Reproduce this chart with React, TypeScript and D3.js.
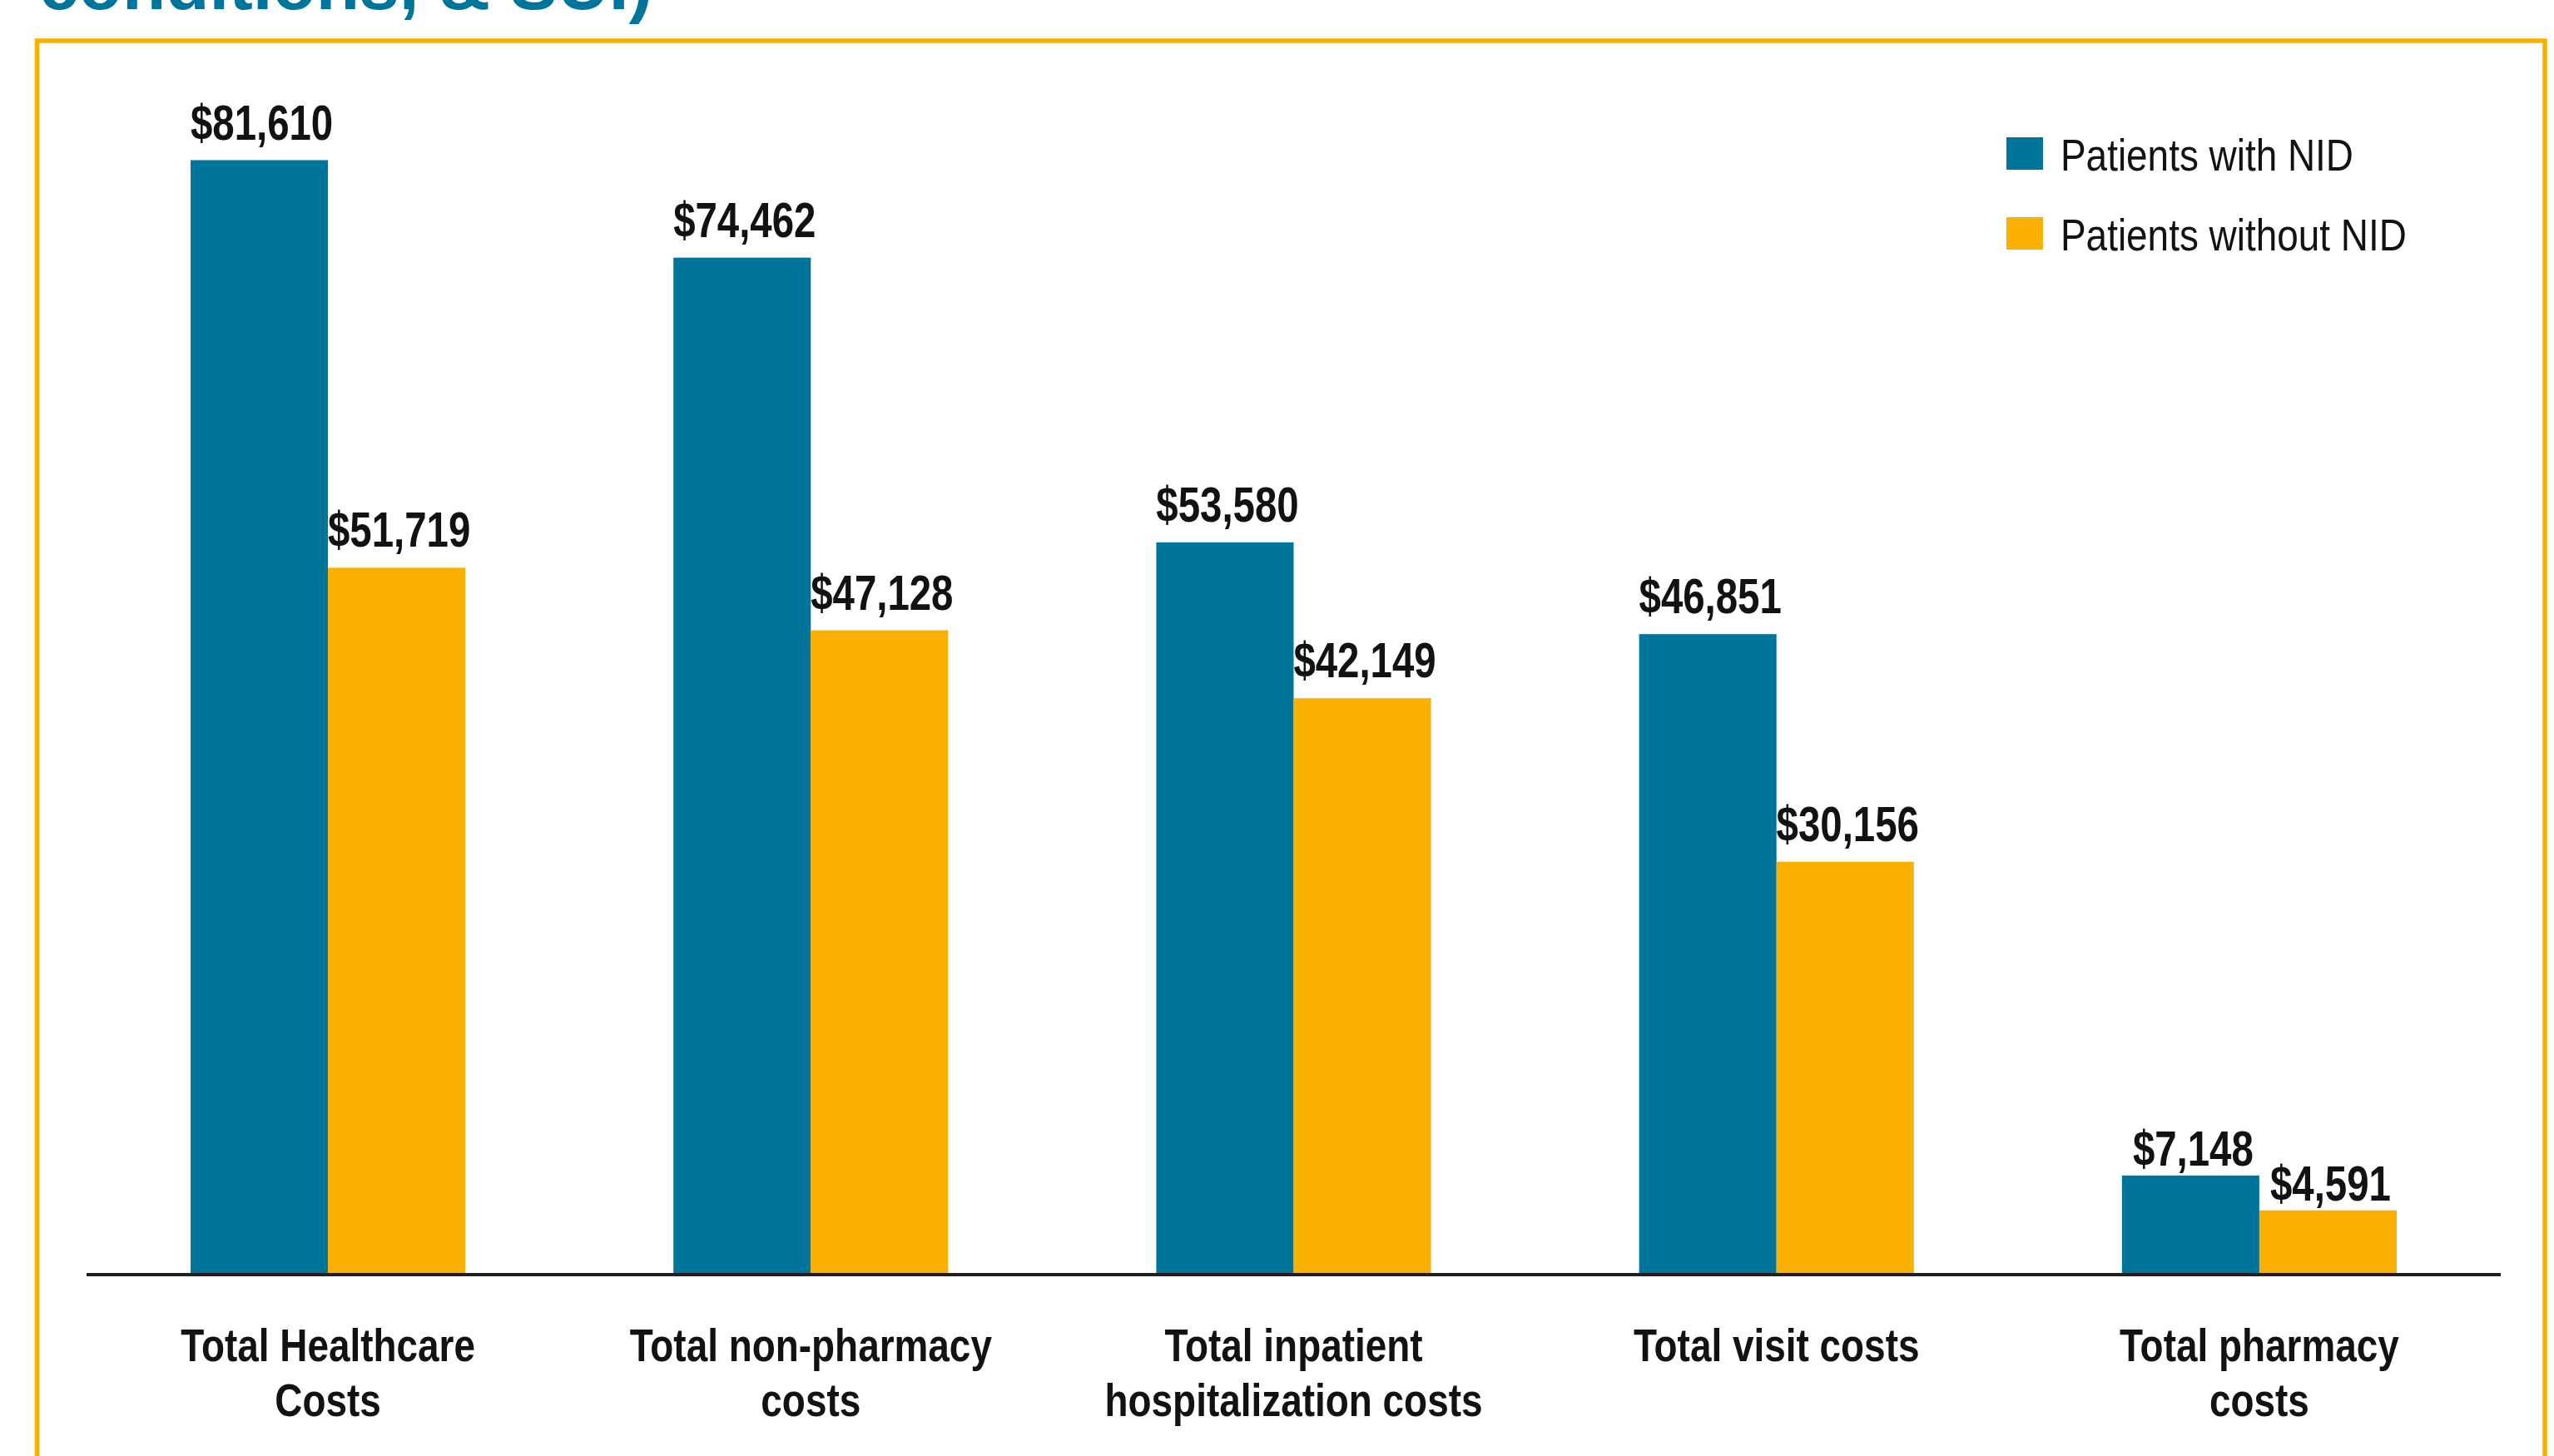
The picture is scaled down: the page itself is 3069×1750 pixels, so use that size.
import React from "react";
import * as d3 from "d3";

const categories = [
  ["Total Healthcare", "Costs"],
  ["Total non-pharmacy", "costs"],
  ["Total inpatient", "hospitalization costs"],
  ["Total visit costs"],
  ["Total pharmacy", "costs"],
];
const categoryKeys = ["healthcare", "nonpharmacy", "inpatient", "visit", "pharmacy"];
const seriesNames = ["Patients with NID", "Patients without NID"];
const withNID = [81610, 74462, 53580, 46851, 7148];
const withoutNID = [51719, 47128, 42149, 30156, 4591];
const titleText = "conditions, & SUI)";

const W = 3069;
const H = 1750;
const BLUE = "#00759B";
const ORANGE = "#F9B000";
const INK = "#141210";
const FONT = "'Liberation Sans', Arial, Helvetica, sans-serif";

function CText({
  x,
  y,
  sx,
  size,
  bold,
  anchor,
  children,
}: {
  x: number;
  y: number;
  sx: number;
  size: number;
  bold?: boolean;
  anchor?: string;
  children: React.ReactNode;
}) {
  return (
    <text
      transform={`translate(${x},${y}) scale(${sx},1)`}
      x={0}
      y={0}
      textAnchor={anchor || "start"}
      fill={INK}
      fontFamily={FONT}
      fontWeight={bold ? "bold" : "normal"}
      fontSize={size}
    >
      {children}
    </text>
  );
}

export default function App() {
  const x0 = d3
    .scaleBand<string>()
    .domain(categoryKeys)
    .range([104, 3005])
    .paddingInner(0.431)
    .paddingOuter(0.2155);
  const x1 = d3.scaleBand<string>().domain(seriesNames).range([0, x0.bandwidth()]);
  const y = d3.scaleLinear().domain([0, 90000]).range([1530, 55]);
  const color = d3.scaleOrdinal<string, string>().domain(seriesNames).range([BLUE, ORANGE]);
  const fmt = d3.format("$,");

  const series = [withNID, withoutNID];

  return (
    <svg
      width={W}
      height={H}
      viewBox={`0 0 ${W} ${H}`}
      style={{ position: "absolute", left: 0, top: 0, background: "#fff" }}
    >
      <rect x={0} y={0} width={W} height={H} fill="#fff" />
      {/* partially visible title (cut off at the top, as in the source) */}
      <text
        x={47}
        y={11}
        fill={BLUE}
        fontFamily={FONT}
        fontWeight="bold"
        fontSize={85.6}
      >
        {titleText}
      </text>
      {/* frame */}
      <rect
        x={44.5}
        y={49}
        width={3058 - 44.5}
        height={H + 50}
        fill="none"
        stroke={ORANGE}
        strokeWidth={5.5}
      />
      {/* bars */}
      {categoryKeys.map((k, i) => (
        <g key={k} transform={`translate(${x0(k)},0)`}>
          {seriesNames.map((s, j) => {
            const v = series[j][i];
            const bx = x1(s)!;
            const top = y(v);
            const gap = k === "pharmacy" ? 12 : 25;
            return (
              <g key={s}>
                <rect x={bx} y={top} width={x1.bandwidth()} height={y(0) - top} fill={color(s)} />
                <CText x={bx + x1.bandwidth() / 2 + 3} y={top - gap} sx={0.79} size={60} bold anchor="middle">
                  {fmt(v)}
                </CText>
              </g>
            );
          })}
          {categories[i].map((line, li) => (
            <CText key={li} x={x0.bandwidth() / 2} y={1636 + li * 66} sx={0.82} size={56} bold anchor="middle">
              {line}
            </CText>
          ))}
        </g>
      ))}
      {/* axis baseline */}
      <line x1={104} x2={3005} y1={1532} y2={1532} stroke="#231F20" strokeWidth={4} />
      {/* legend */}
      {seriesNames.map((s, i) => (
        <g key={s} transform={`translate(2411,${165 + i * 96})`}>
          <rect x={0} y={0} width={44} height={39} fill={color(s)} />
          <CText x={65} y={40} sx={0.85} size={54}>
            {s}
          </CText>
        </g>
      ))}
    </svg>
  );
}
